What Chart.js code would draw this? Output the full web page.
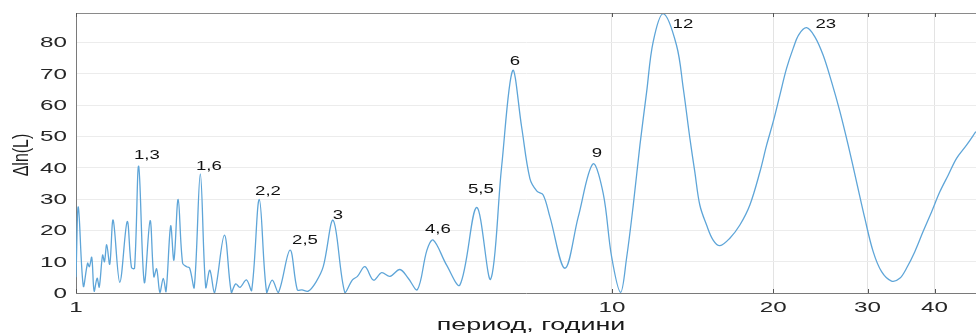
<!DOCTYPE html>
<html><head><meta charset="utf-8">
<script src="https://cdn.jsdelivr.net/npm/chart.js@4.4.0/dist/chart.umd.min.js"></script>
<style>html,body{margin:0;padding:0;background:#fff;overflow:hidden}#wrap{width:976px;height:335px;position:relative}</style>
</head><body><div id="wrap"><canvas id="c" width="976" height="335"></canvas></div>
<script>
// period, years (x) and Δln(L) (y)
const periods = [1.000,1.010,1.032,1.051,1.059,1.070,1.081,1.095,1.105,1.121,1.130,1.141,1.156,1.173,1.207,1.246,1.269,1.286,1.309,1.341,1.375,1.397,1.414,1.434,1.455,1.472,1.502,1.523,1.551,1.581,1.609,1.630,1.662,1.706,1.746,1.777,1.813,1.892,1.950,1.986,2.023,2.080,2.127,2.198,2.269,2.324,2.385,2.508,2.588,2.640,2.713,2.804,2.893,3.020,3.176,3.280,3.351,3.461,3.590,3.719,3.853,4.022,4.168,4.336,4.517,4.640,4.916,5.205,5.593,5.939,6.226,6.528,6.785,7.031,7.245,7.444,7.662,8.173,8.654,9.216,9.633,9.987,
  10.38,10.65,10.96,11.28,11.61,11.94,12.47,13.20,13.59,13.98,14.28,14.59,15.02,15.45,15.91,16.60,17.33,18.09,18.89,19.44,20.00,20.58,21.18,21.79,22.33,23.08,23.92,24.79,25.70,26.64,27.60,28.61,29.65,30.73,31.86,33.25,34.45,35.46,36.75,38.08,39.49,40.92,42.41,43.97,45.89,47.76];
const lnL = [5.0,27.5,2.2,9.5,8.4,11.4,0.6,4.7,1.9,12.1,10.0,15.4,9.2,23.3,3.4,22.8,8.2,7.9,40.5,3.4,23.1,5.2,7.7,0.2,4.7,0.4,21.4,10.5,29.9,9.5,8.4,7.9,1.8,38.0,1.8,7.3,0,18.5,0.1,2.9,1.8,4.2,0.8,29.9,0.1,4.1,0.1,13.7,1.0,1.0,0.6,3.5,8.4,23.2,0,4.2,5.3,8.4,4.1,6.5,5.3,7.5,4.7,1.1,13.7,16.9,8.9,2.6,27.3,4.4,40.3,71.0,53,36.5,32.5,31.3,24.3,7.9,24.3,41.2,31.8,11.6,
  0.2,11.1,28,47.2,64.2,80.2,89.2,79.1,65.3,49.4,38.7,28.1,21.7,16.9,15.1,17.5,21.7,28.1,38.7,47.2,54.7,63.2,71.7,78.1,82.5,84.7,81.8,75.9,67.4,57.9,47.2,35.5,23.8,13.2,6.8,3.8,4.7,7.9,13.2,19.6,25.9,32.3,37.6,43,47.2,51.5];
const xTickValues = [1,10,20,30,40];
const yTickValues = [0,10,20,30,40,50,60,70,80];
const xRange = [1,47.8];
const yRange = [0,89.4];
const peakLabels = ['1,3','1,6','2,2','2,5','3','4,6','5,5','6','9','12','23'];
const peakLabelPeriods = [1.356,1.770,2.282,2.675,3.083,4.736,5.697,6.593,9.376,13.57,25.07];
const peakLabelValues = [44.0,40.2,32.5,16.6,24.6,20.1,32.9,74.0,44.4,85.8,85.8];
const xTitle = 'период, години';
const yTitle = 'Δln(L)';

const FONT = '"Liberation Sans", Arial, sans-serif';
function sText(ctx, text, x, y, size, sx, align, base, color, rot){
  ctx.save();
  ctx.translate(x, y);
  ctx.scale(sx, 1);
  if (rot) ctx.rotate(rot);
  ctx.font = size + 'px ' + FONT;
  ctx.textAlign = align; ctx.textBaseline = base; ctx.fillStyle = color;
  ctx.fillText(text, 0, 0);
  ctx.restore();
}
const textPlugin = {
  id: 'textPlugin',
  afterDraw(chart){
    const ctx = chart.ctx, xs = chart.scales.x, ys = chart.scales.y, ca = chart.chartArea;
    ctx.save();
    ctx.strokeStyle = '#8a8a8a'; ctx.lineWidth = 1;
    ctx.beginPath(); ctx.moveTo(ca.left, ca.top + 0.5); ctx.lineTo(ca.right, ca.top + 0.5); ctx.stroke();
    ctx.strokeStyle = '#555';
    xTickValues.forEach(v => {
      const px = Math.round(xs.getPixelForValue(v)) + 0.5;
      ctx.beginPath(); ctx.moveTo(px, ca.bottom); ctx.lineTo(px, ca.bottom - 4); ctx.stroke();
      ctx.beginPath(); ctx.moveTo(px, ca.top); ctx.lineTo(px, ca.top + 4); ctx.stroke();
    });
    ctx.restore();
    yTickValues.forEach(v => {
      sText(ctx, String(v), ca.left - 9, ys.getPixelForValue(v) + 1, 14, 1.73, 'right', 'middle', '#262626');
    });
    xTickValues.forEach(v => {
      sText(ctx, String(v), xs.getPixelForValue(v), ca.bottom + 15, 14, 1.73, 'center', 'middle', '#262626');
    });
    sText(ctx, xTitle, (xs.getPixelForValue(xRange[0]) + 455), ca.bottom + 37, 16, 1.68, 'center', 'alphabetic', '#1a1a1a');
    sText(ctx, yTitle, 22, 155, 16, 1.35, 'center', 'middle', '#1a1a1a', -Math.PI/2);
    peakLabels.forEach((t, i) => {
      sText(ctx, t, xs.getPixelForValue(peakLabelPeriods[i]), ys.getPixelForValue(peakLabelValues[i]), 12, 1.55, 'center', 'middle', '#111');
    });
  }
};

new Chart(document.getElementById('c'), {
  type: 'line',
  data: {
    datasets: [{
      data: periods.map((p, i) => ({x: p, y: lnL[i]})),
      borderColor: '#5ea5d8',
      borderWidth: 1.3,
      pointRadius: 0,
      fill: false,
      tension: 0.35
    }]
  },
  options: {
    responsive: false,
    animation: false,
    events: [],
    layout: {padding: {top: 13, right: 0, left: 0, bottom: 0}},
    plugins: {legend: {display: false}, tooltip: {enabled: false}},
    scales: {
      x: {
        type: 'logarithmic', min: xRange[0], max: xRange[1],
        afterBuildTicks: s => { s.ticks = xTickValues.map(v => ({value: v})); },
        afterFit: s => { s.height = 42; },
        ticks: {display: false},
        grid: {color: '#e3e3e3', drawTicks: false, lineWidth: 1},
        border: {display: true, color: '#7a7a7a', width: 1}
      },
      y: {
        type: 'linear', min: yRange[0], max: yRange[1],
        afterBuildTicks: s => { s.ticks = yTickValues.map(v => ({value: v})); },
        afterFit: s => { s.width = 76; },
        ticks: {display: false},
        grid: {color: '#ececec', drawTicks: false, lineWidth: 1},
        border: {display: true, color: '#7a7a7a', width: 1}
      }
    }
  },
  plugins: [textPlugin]
});
</script>
</body></html>
